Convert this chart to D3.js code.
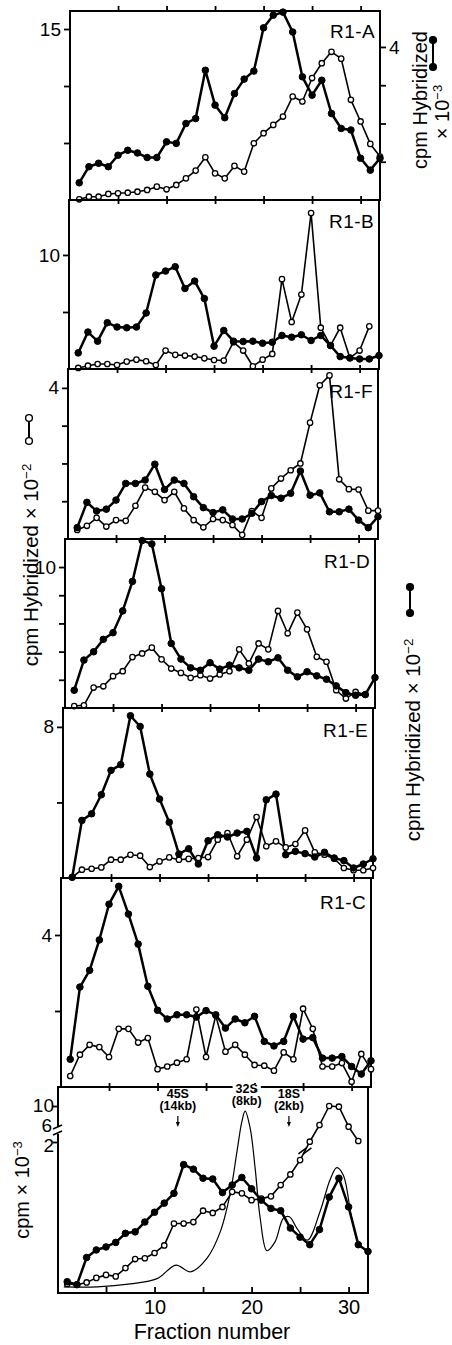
<!DOCTYPE html>
<html>
<head>
<meta charset="utf-8">
<script src="https://cdn.jsdelivr.net/npm/d3@7"></script>
<style>
  body { margin: 0; background: #fff; }
  text { font-family: "Liberation Sans", Arial, Helvetica, sans-serif; fill: #000; }
</style>
</head>
<body>
<script>
// fraction numbers (x categories)
const fractions = [1,2,3,4,5,6,7,8,9,10,11,12,13,14,15,16,17,18,19,20,21,22,23,24,25,26,27,28,29,30,31,32]
const xTicks = [5,10,15,20,25,30]
const xLabels = [10,20,30]

// R1-A : filled on right axis (x 10^-3), open on left axis
const aFilled = [0.45,0.87,0.96,0.87,1.17,1.30,1.23,1.11,1.11,1.52,1.48,2.00,2.13,3.39,2.48,2.15,2.78,3.16,3.37,4.50,4.83,4.91,4.39,3.22,2.74,3.13,2.26,1.87,1.83,1.09,0.78,1.09]
const aOpen = [0.06,0.29,0.29,0.53,0.59,0.64,0.73,0.88,1.17,0.94,1.32,1.90,2.58,3.75,2.34,1.90,2.99,2.49,4.98,5.86,6.59,7.32,9.08,8.64,10.7,12.0,13.0,12.4,8.79,6.89,4.92,3.81]
// R1-B
const bFilled = [1.41,3.24,2.44,4.06,3.68,3.62,3.68,4.91,8.24,8.59,8.97,7.06,7.71,6.18,2.00,3.38,2.44,2.41,2.44,2.26,2.35,2.94,2.79,3.00,2.50,2.94,2.06,1.09,0.97,0.88,0.88,1.18]
const bOpen = [0.09,0.29,0.44,0.44,0.35,0.65,0.82,0.68,0.35,1.62,1.24,1.18,1.09,0.94,0.79,0.74,2.35,1.62,0.24,0.82,1.32,7.88,4.12,6.53,13.68,3.62,2.06,3.62,0.97,1.62,3.74]
// R1-F
const fFilled = [0.30,0.97,0.74,0.79,1.03,1.47,1.47,1.56,1.98,1.31,1.56,1.47,1.12,0.83,0.70,0.77,0.53,0.53,0.68,0.99,1.15,1.08,1.21,1.80,1.16,1.22,0.72,0.72,0.79,0.50,0.30,0.59]
const fOpen = [0.24,0.35,0.56,0.33,0.50,0.48,0.88,1.36,1.25,1.03,1.25,0.81,0.50,0.31,0.53,0.50,0.37,0.11,0.74,0.56,1.34,1.60,1.82,2.00,3.08,4.07,4.33,1.58,1.32,1.31,0.75,0.75]
// R1-D
const dFilled = [1.26,3.40,3.99,4.87,5.34,6.89,8.98,11.88,11.64,8.46,4.58,3.47,2.85,2.68,3.21,2.76,3.04,2.85,2.68,3.47,3.28,3.56,2.68,2.21,2.57,2.28,2.04,1.57,1.09,0.90,0.95,2.16]
const dOpen = [0.14,0.19,1.45,1.54,2.26,2.61,3.61,3.87,4.28,3.45,2.80,2.49,2.14,2.33,2.09,2.38,2.61,4.16,3.16,4.58,4.16,6.89,5.30,6.77,5.58,3.63,3.28,1.26,0.67,1.14,0.95]
// R1-E
const eFilled = [0.04,3.05,3.40,4.41,5.70,6.00,8.59,8.02,5.50,4.18,2.95,1.27,1.55,0.74,1.97,2.29,2.17,2.38,2.47,1.06,4.14,4.44,1.23,1.41,1.29,1.11,1.36,1.06,0.92,0.53,0.74,1.02]
const eOpen = [0.04,0.44,0.49,0.56,0.97,0.97,1.23,1.18,0.58,0.88,1.09,0.97,1.01,1.06,1.11,2.03,2.38,1.15,2.03,3.23,1.68,1.94,1.62,1.80,2.52,1.36,1.23,1.02,0.53,0.41,0.41,0.53]
// R1-C
const cFilled = [0.73,2.63,3.07,3.87,4.81,5.28,4.55,3.76,2.65,2.02,1.79,1.90,1.90,1.84,2.01,1.90,1.55,1.79,1.69,1.86,1.20,1.08,1.20,1.86,1.26,1.30,0.76,0.76,0.80,0.54,0.34,0.69]
const cOpen = [0.29,0.85,1.11,1.05,0.79,1.53,1.53,1.17,1.29,0.47,0.54,0.64,0.73,2.04,0.79,1.88,0.93,1.11,0.85,0.58,0.56,0.43,0.91,0.73,2.06,1.53,0.54,0.54,0.63,0.14,0.87,0.47]

// gradient panel (cpm x 10^-3)
const gFilled = [0.15,0.11,0.47,0.57,0.61,0.67,0.79,0.81,0.94,1.07,1.19,1.32,1.70,1.64,1.52,1.51,1.33,1.43,1.53,1.38,1.23,1.12,1.09,0.86,0.74,0.64,0.84,1.27,1.52,1.14,0.64,0.55]
const gOpenLowFrac = [1,2,3,4,5,6,7,8,9,10,11,12,13,14,15,16,17,18,19,20,21,22,23,24,25]
const gOpenLow = [0.12,0.11,0.14,0.20,0.24,0.22,0.33,0.45,0.46,0.53,0.63,0.92,0.92,0.94,1.09,1.06,1.14,1.34,1.32,1.23,1.25,1.28,1.43,1.57,1.76]
const gOpenHighFrac = [26,27,28,29,30,31]
const gOpenHigh = [2.48,6.0,10.0,9.85,5.64,2.63]
const gAxisTicks = [2,6,10]
// optical density trace
const odFrac = [0.65,4.09,7.51,10.26,12.21,13.69,15.40,16.77,17.80,18.49,19.0,19.34,19.86,20.37,20.89,21.58,22.43,23.28,23.90,24.66,25.75,27.06,28.09,28.78,29.46,30.32,31.10,32.0]
const odVal = [0.08,0.08,0.12,0.19,0.37,0.28,0.46,0.81,1.32,1.87,2.27,2.41,2.18,1.65,0.99,0.56,0.68,0.99,1.01,0.86,0.70,1.08,1.50,1.66,1.56,0.99,0.64,0.55]

const markers = [
    {name: '45S', size: '(14kb)', frac: 12.4, arrow: true},
    {name: '32S', size: '(8kb)', frac: 19.5, arrow: false},
    {name: '18S', size: '(2kb)', frac: 23.85, arrow: true}
]

// layout
const plotW = 310
const xDomain = [0.05, 32]
const font = '"Liberation Sans", Arial, Helvetica, sans-serif'

const panels = [
    {name: 'R1-A', left: 70, top: 11, bottom: 200, ymax: 16.58, ticks: [5,10,15], labelAt: 15, open: aOpen, filled: aFilled, rightMax: 4.94, rightTicks: [1,2,3,4], rightLabelAt: 4, nameY: 38},
    {name: 'R1-B', left: 69, top: 200, bottom: 369, ymax: 14.82, ticks: [5,10], labelAt: 10, open: bOpen, filled: bFilled, nameY: 228},
    {name: 'R1-F', left: 68, top: 369, bottom: 539, ymax: 4.5, ticks: [1,2,3,4], labelAt: 4, open: fOpen, filled: fFilled, nameY: 398},
    {name: 'R1-D', left: 65, top: 539, bottom: 708, ymax: 11.99, ticks: [2,4,6,8,10], labelAt: 10, open: dOpen, filled: dFilled, nameY: 568},
    {name: 'R1-E', left: 63, top: 708, bottom: 878, ymax: 9.0, ticks: [4,8], labelAt: 8, open: eOpen, filled: eFilled, nameY: 737},
    {name: 'R1-C', left: 61, top: 878, bottom: 1087, ymax: 5.5, ticks: [2,4], labelAt: 4, open: cOpen, filled: cFilled, nameY: 909}
]

const svg = d3.select('body').append('svg')
    .attr('width', 452)
    .attr('height', 1345)

function styleAxis(g, size) {
    g.select('.domain').remove()
    g.selectAll('line').attr('stroke', '#000').attr('stroke-width', 1.8)
    g.selectAll('text')
        .attr('font-size', size || 19)
        .attr('font-family', font)
        .attr('fill', '#000')
}

function drawLine(g, pts, width) {
    g.append('path')
        .datum(pts)
        .attr('d', d3.line())
        .attr('fill', 'none')
        .attr('stroke', '#000')
        .attr('stroke-width', width)
        .attr('stroke-linejoin', 'round')
}

function drawDots(g, pts, filled) {
    g.selectAll(null)
        .data(pts)
        .enter().append('circle')
        .attr('cx', d => d[0])
        .attr('cy', d => d[1])
        .attr('r', filled ? 3.3 : 2.7)
        .attr('fill', filled ? '#000' : '#fff')
        .attr('stroke', '#000')
        .attr('stroke-width', filled ? 1 : 1.3)
}

panels.forEach((p, i) => {
    const x = d3.scaleLinear().domain(xDomain).range([p.left, p.left + plotW])
    const y = d3.scaleLinear().domain([0, p.ymax]).range([p.bottom, p.top])
    const yFill = p.rightMax ? d3.scaleLinear().domain([0, p.rightMax]).range([p.bottom, p.top]) : y
    const g = svg.append('g')

    g.append('rect')
        .attr('x', p.left).attr('y', p.top)
        .attr('width', plotW).attr('height', p.bottom - p.top)
        .attr('fill', 'none').attr('stroke', '#000').attr('stroke-width', 2)

    g.append('g')
        .attr('transform', 'translate(' + p.left + ',0)')
        .call(d3.axisLeft(y).tickValues(p.ticks).tickSize(6).tickPadding(3)
            .tickFormat(d => d === p.labelAt ? d : ''))
        .call(styleAxis)

    // ticks crossing the shared border
    g.append('g')
        .attr('transform', 'translate(0,' + (p.bottom - 4) + ')')
        .call(d3.axisBottom(x).tickValues(xTicks).tickSize(8).tickFormat(''))
        .call(styleAxis)

    if (i === 0) {
        g.append('g')
            .attr('transform', 'translate(0,' + p.top + ')')
            .call(d3.axisTop(x).tickValues(xTicks).tickSize(5).tickFormat(''))
            .call(styleAxis)
    }

    if (p.rightMax) {
        g.append('g')
            .attr('transform', 'translate(' + (p.left + plotW) + ',0)')
            .call(d3.axisRight(yFill).tickValues(p.rightTicks).tickSize(6).tickPadding(3)
                .tickFormat(d => d === p.rightLabelAt ? d : ''))
            .call(styleAxis)
    }

    const openPts = p.open.map((v, k) => [x(fractions[k]), y(v)])
    const fillPts = p.filled.map((v, k) => [x(fractions[k]), yFill(v)])
    drawLine(g, openPts, 1.6)
    drawLine(g, fillPts, 2.5)
    drawDots(g, openPts, false)
    drawDots(g, fillPts, true)

    g.append('text')
        .attr('x', p.left + plotW - 5)
        .attr('y', p.nameY)
        .attr('text-anchor', 'end')
        .attr('font-size', 19)
        .attr('letter-spacing', 0.4)
        .text(p.name)
})

// gradient panel
const gLeft = 58, gTop = 1087, gBottom = 1293
const gx = d3.scaleLinear().domain(xDomain).range([gLeft, gLeft + plotW])
const gLow = d3.scaleLinear().domain([0, 2]).range([gBottom, 1142])
const gHigh = d3.scaleLinear().domain([6, 10]).range([1125, 1106])
const gAxisScale = d3.scaleLinear().domain([0, 2, 6, 10]).range([gBottom, 1142, 1125, 1106])
const gg = svg.append('g')

gg.append('rect')
    .attr('x', gLeft).attr('y', gTop)
    .attr('width', plotW).attr('height', gBottom - gTop)
    .attr('fill', 'none').attr('stroke', '#000').attr('stroke-width', 2)

gg.append('g')
    .attr('transform', 'translate(' + gLeft + ',0)')
    .call(d3.axisLeft(gAxisScale).tickValues([2, 10]).tickSize(5).tickFormat(''))
    .call(styleAxis)

// tick labels of the broken axis, set a little apart so they do not collide
const labelDy = {10: 6, 6: 7, 2: 10}
gAxisTicks.forEach(v => {
    gg.append('text')
        .attr('x', v === 6 ? gLeft - 6 : gLeft - 4)
        .attr('y', gAxisScale(v) + labelDy[v])
        .attr('text-anchor', 'end')
        .attr('font-size', 19)
        .text(v)
})

// axis break
gg.append('rect').attr('x', gLeft - 2).attr('y', 1127).attr('width', 4).attr('height', 7).attr('fill', '#fff')
;[1127, 1133].forEach(yy => {
    gg.append('line')
        .attr('x1', gLeft - 5).attr('y1', yy + 2)
        .attr('x2', gLeft + 4).attr('y2', yy - 2)
        .attr('stroke', '#000').attr('stroke-width', 1.5)
})

gg.append('g')
    .attr('transform', 'translate(0,' + gBottom + ')')
    .call(d3.axisTop(gx).tickValues(xTicks).tickSize(6).tickFormat(''))
    .call(styleAxis)

gg.append('g')
    .attr('transform', 'translate(0,' + gBottom + ')')
    .call(d3.axisBottom(gx).tickValues(xLabels).tickSize(0).tickPadding(7))
    .call(styleAxis, 20)

// optical density trace
gg.append('path')
    .datum(odFrac.map((f, k) => [gx(f), gLow(odVal[k])]))
    .attr('d', d3.line().curve(d3.curveCatmullRom.alpha(0.5)))
    .attr('fill', 'none')
    .attr('stroke', '#000')
    .attr('stroke-width', 1.2)

const gOpenPts = gOpenLowFrac.map((f, k) => [gx(f), gLow(gOpenLow[k])])
    .concat(gOpenHighFrac.map((f, k) => [gx(f), gHigh(gOpenHigh[k])]))
const gFillPts = gFilled.map((v, k) => [gx(fractions[k]), gLow(v)])
drawLine(gg, gOpenPts, 1.6)
drawLine(gg, gFillPts, 2.5)

// break marks on the open curve
const bA = gOpenPts[gOpenLowFrac.length - 1], bB = gOpenPts[gOpenLowFrac.length]
const bm = [(bA[0] + bB[0]) / 2, (bA[1] + bB[1]) / 2]
;[-2.5, 2.5].forEach(off => {
    gg.append('line')
        .attr('x1', bm[0] + off - 4).attr('y1', bm[1] + 3)
        .attr('x2', bm[0] + off + 4).attr('y2', bm[1] - 3)
        .attr('stroke', '#000').attr('stroke-width', 1.5)
})

drawDots(gg, gOpenPts, false)
drawDots(gg, gFillPts, true)

// size markers
markers.forEach(m => {
    const mx = gx(m.frac)
    const mg = gg.append('g')
    const bg = mg.append('rect').attr('fill', '#fff')
    const t = mg.append('text')
        .attr('x', mx).attr('y', m.arrow ? 1098 : 1093)
        .attr('text-anchor', 'middle')
        .attr('font-size', 12.5).attr('font-weight', 'bold')
        .text(m.name)
    if (!m.arrow) {
        const bb = t.node().getBBox()
        bg.attr('x', bb.x - 3).attr('y', gTop - 3)
            .attr('width', bb.width + 6).attr('height', 6)
    } else {
        bg.remove()
    }
    mg.append('text')
        .attr('x', mx).attr('y', m.arrow ? 1110 : 1105)
        .attr('text-anchor', 'middle')
        .attr('font-size', 12.5).attr('font-weight', 'bold')
        .text(m.size)
    if (m.arrow) {
        mg.append('line')
            .attr('x1', mx).attr('y1', 1116).attr('x2', mx).attr('y2', 1124)
            .attr('stroke', '#000').attr('stroke-width', 1.2)
        mg.append('path')
            .attr('d', 'M' + (mx - 2) + ',1122 L' + mx + ',1127 L' + (mx + 2) + ',1122 Z')
            .attr('fill', '#000')
    }
})

// axis titles
svg.append('text')
    .attr('x', 212).attr('y', 1339)
    .attr('text-anchor', 'middle')
    .attr('font-size', 21.5)
    .text('Fraction number')

function rotLabel(x, y, size, main, sup) {
    const t = svg.append('text')
        .attr('transform', 'translate(' + x + ',' + y + ') rotate(-90)')
        .attr('text-anchor', 'middle')
        .attr('font-size', size)
        .text(main)
    if (sup) {
        t.append('tspan').attr('dy', -7).attr('font-size', size * 0.65).text(sup)
    }
}

function legendSymbol(x, y1, y2, filled) {
    svg.append('line')
        .attr('x1', x).attr('y1', y1).attr('x2', x).attr('y2', y2)
        .attr('stroke', '#000').attr('stroke-width', 2)
    ;[y1, y2].forEach(yy => {
        svg.append('circle')
            .attr('cx', x).attr('cy', yy).attr('r', 3.4)
            .attr('fill', filled ? '#000' : '#fff')
            .attr('stroke', '#000').attr('stroke-width', 1.4)
    })
}

// right, top panel
rotLabel(427, 100, 20, 'cpm Hybridized')
rotLabel(449, 112, 20, '× 10', '−3')
legendSymbol(433, 40, 67, true)

// left, middle
rotLabel(38, 565, 20.5, 'cpm Hybridized × 10', '−2')
legendSymbol(29, 418, 441, false)

// right, middle
rotLabel(420, 740, 20.5, 'cpm Hybridized × 10', '−2')
legendSymbol(410, 587, 613, true)

// left, gradient
rotLabel(29, 1190, 20, 'cpm × 10', '−3')
</script>
</body>
</html>
